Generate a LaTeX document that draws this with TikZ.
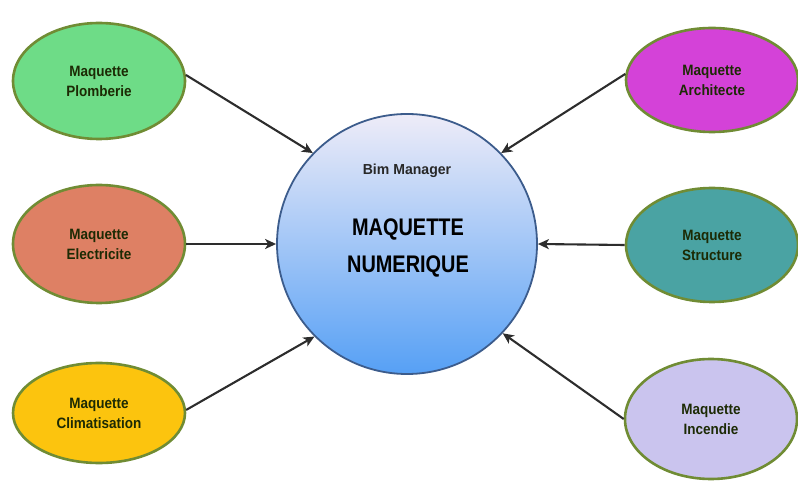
\documentclass[tikz,border=0pt]{standalone}
\usepackage{fontspec}
\setmainfont{Liberation Sans}
\usetikzlibrary{shapes.geometric,arrows.meta}
\definecolor{rimgreen}{RGB}{112,140,52}
\definecolor{txtgreen}{RGB}{28,42,4}
\definecolor{cplom}{RGB}{110,220,135}
\definecolor{celec}{RGB}{222,128,100}
\definecolor{cclim}{RGB}{252,196,14}
\definecolor{carch}{RGB}{212,66,216}
\definecolor{cstruc}{RGB}{74,163,163}
\definecolor{cinc}{RGB}{202,196,238}
\definecolor{ctop}{RGB}{238,236,248}
\definecolor{cbot}{RGB}{86,160,245}
\definecolor{crim}{RGB}{60,92,140}
\definecolor{carrow}{RGB}{45,45,45}
\definecolor{cgraytxt}{RGB}{40,40,40}
\begin{document}
\begin{tikzpicture}[x=1pt,y=-1pt,
  oval/.style={ellipse, draw=rimgreen, line width=2.6pt, inner sep=0pt,
    minimum width=172pt, align=center, text=txtgreen,
    font=\fontsize{15}{20}\selectfont\bfseries},
  hub/.style={circle, draw=crim, line width=1.8pt, minimum size=260pt,
    top color=ctop, bottom color=cbot, inner sep=0pt},
  link/.style={draw=carrow, line width=2.1pt,
    -{Stealth[length=11pt,width=10pt,inset=3pt]}},
  big/.style={font=\fontsize{24}{28}\selectfont\bfseries, text=black}
]
\useasboundingbox (0,0) rectangle (798,486);

\node[hub] (mid) at (407,244) {};
\node[font=\fontsize{14.5}{18}\selectfont\bfseries, text=cgraytxt] (bim) at (407,171) {\scalebox{0.97}[1]{Bim Manager}};
\node[big] (maq) at (408,229) {\scalebox{0.83}[1]{MAQUETTE}};
\node[big] (num) at (408,266) {\scalebox{0.83}[1]{NUMERIQUE}};

\node[oval, fill=cplom, minimum height=116pt] (plom) at (99,81) {\scalebox{0.9}[1]{Maquette}\\\scalebox{0.9}[1]{Plomberie}};
\node[oval, fill=celec, minimum height=118pt] (elec) at (99,244) {\scalebox{0.9}[1]{Maquette}\\\scalebox{0.9}[1]{Electricite}};
\node[oval, fill=cclim, minimum height=100pt] (clim) at (99,413) {\scalebox{0.9}[1]{Maquette}\\\scalebox{0.9}[1]{Climatisation}};

\node[oval, fill=carch, minimum height=104pt] (arch) at (712,80) {\scalebox{0.9}[1]{Maquette}\\\scalebox{0.9}[1]{Architecte}};
\node[oval, fill=cstruc, minimum height=114pt] (stru) at (712,245) {\scalebox{0.9}[1]{Maquette}\\\scalebox{0.9}[1]{Structure}};
\node[oval, fill=cinc, minimum height=120pt] (inc) at (711,419) {\scalebox{0.9}[1]{Maquette}\\\scalebox{0.9}[1]{Incendie}};

\draw[link] (plom.4) -- (mid.136);
\draw[link] (elec.east) -- (mid.180);
\draw[link] (clim.2) -- (mid.225);
\draw[link] (arch.176) -- (mid.44);
\draw[link] (stru.west) -- (mid.0);
\draw[link] (inc.180) -- (mid.317);
\end{tikzpicture}
\end{document}
